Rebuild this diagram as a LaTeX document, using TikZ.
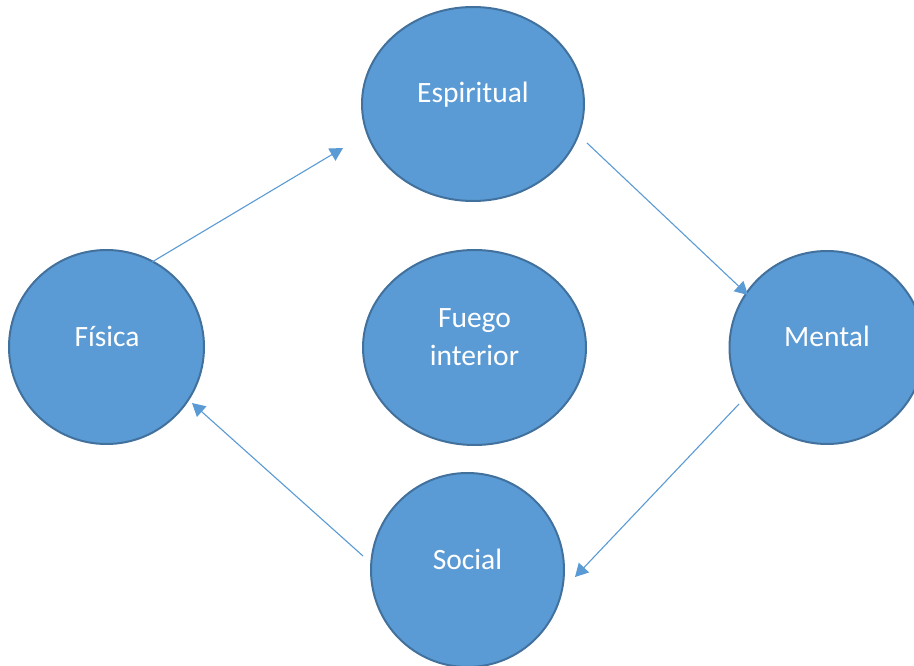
\documentclass[tikz,border=0pt]{standalone}
\usepackage{fontspec}
\setmainfont{Carlito}
\usetikzlibrary{shapes.geometric,arrows.meta}
\definecolor{cfill}{HTML}{5B9BD5}
\definecolor{cedge}{HTML}{41719C}
\tikzset{
  bubble/.style={ellipse, draw=cedge, fill=cfill, line width=2pt, inner sep=0pt},
  lbl/.style={text=white, anchor=base, inner sep=0pt, font=\fontsize{29.5}{38}\selectfont},
  link/.style={draw=cfill, line width=1.1pt, -{Triangle[length=13pt,width=14pt]}}
}
\begin{document}
\begin{tikzpicture}[x=1pt,y=-1pt]
\useasboundingbox (0,0) rectangle (914,666);
\clip (0,0) rectangle (914,666);
\fill[white] (0,0) rectangle (914,666);
% ellipses
\node[bubble, minimum width=222pt, minimum height=194pt] (esp) at (473,104) {};
\node[bubble, minimum width=195pt, minimum height=194pt] (fis) at (106.5,347) {};
\node[bubble, minimum width=223pt, minimum height=195pt] (fue) at (474.5,347.5) {};
\node[bubble, minimum width=195pt, minimum height=193pt] (men) at (827,347.5) {};
\node[bubble, minimum width=193pt, minimum height=194pt] (soc) at (467.5,570) {};
% labels
\node[lbl] (espT) at (473,103) {Espiritual};
\node[lbl] (fisT) at (107,346) {Física};
\node[lbl] (fueT1) at (474.5,327) {Fuego};
\node[lbl] (fueT2) at (474.5,365) {interior};
\node[lbl] (menT) at (827,346.5) {Mental};
\node[lbl] (socT) at (467.5,569) {Social};
% arrow ends
\coordinate (a1s) at (152,262);
\coordinate (a1e) at (343,148);
\coordinate (a2s) at (587,143);
\coordinate (a2e) at (748,295);
\coordinate (a3s) at (739,404);
\coordinate (a3e) at (575,577);
\coordinate (a4s) at (363,556);
\coordinate (a4e) at (192,403);
\draw[link] (a1s) -- (a1e);
\draw[link] (a2s) -- (a2e);
\draw[link] (a3s) -- (a3e);
\draw[link] (a4s) -- (a4e);
\end{tikzpicture}
\end{document}
